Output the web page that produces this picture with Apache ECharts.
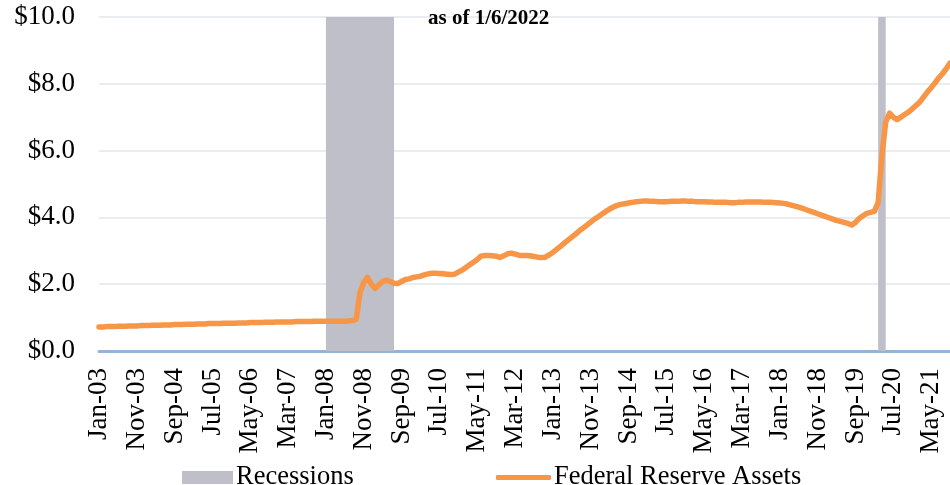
<!DOCTYPE html>
<html>
<head>
<meta charset="utf-8">
<script src="https://cdn.jsdelivr.net/npm/echarts@6/dist/echarts.min.js"></script>
<style>html,body{margin:0;padding:0;background:#fff}#c{width:950px;height:485px}</style>
</head>
<body>
<div id="c"></div>
<script>
// Month labels Jan-03 .. Oct-21
const monthNames = ['Jan','Feb','Mar','Apr','May','Jun','Jul','Aug','Sep','Oct','Nov','Dec'];
const startYear = 2003, endYear = 2021, endMonth = 10;
const categories = [];
for (let y = startYear; y <= endYear; y++) {
  for (let m = 0; m < 12; m++) {
    if (y === endYear && m >= endMonth) break;
    categories.push(monthNames[m] + '-' + String(y % 100).padStart(2, '0'));
  }
}

// Federal Reserve assets, $ trillions (monthly)
const assets2003 = [0.72,0.72,0.73,0.73,0.73,0.74,0.74,0.74,0.75,0.75,0.75,0.76];
const assets2004 = [0.76,0.76,0.77,0.77,0.77,0.78,0.78,0.78,0.79,0.79,0.79,0.80];
const assets2005 = [0.80,0.80,0.81,0.81,0.81,0.82,0.82,0.82,0.82,0.83,0.83,0.83];
const assets2006 = [0.83,0.84,0.84,0.84,0.85,0.85,0.85,0.85,0.86,0.86,0.86,0.87];
const assets2007 = [0.87,0.87,0.87,0.87,0.88,0.88,0.88,0.88,0.88,0.89,0.89,0.89];
const assets2008 = [0.89,0.89,0.89,0.89,0.89,0.89,0.90,0.91,0.95,1.75,2.05,2.20];
const assets2009 = [2.00,1.87,1.98,2.08,2.12,2.08,2.03,2.02,2.08,2.14,2.16,2.20];
const assets2010 = [2.22,2.24,2.28,2.31,2.33,2.33,2.32,2.31,2.30,2.29,2.30,2.36];
const assets2011 = [2.42,2.50,2.58,2.66,2.74,2.84,2.86,2.86,2.85,2.84,2.80,2.85];
const assets2012 = [2.91,2.93,2.90,2.87,2.86,2.86,2.85,2.83,2.81,2.80,2.81,2.88];
const assets2013 = [2.95,3.04,3.13,3.23,3.32,3.41,3.50,3.60,3.68,3.77,3.86,3.95];
const assets2014 = [4.02,4.10,4.18,4.25,4.31,4.36,4.39,4.41,4.43,4.45,4.47,4.48];
const assets2015 = [4.49,4.49,4.48,4.48,4.47,4.47,4.47,4.48,4.48,4.48,4.49,4.49];
const assets2016 = [4.48,4.48,4.47,4.47,4.47,4.46,4.46,4.45,4.45,4.45,4.45,4.44];
const assets2017 = [4.44,4.45,4.45,4.46,4.46,4.46,4.46,4.46,4.45,4.45,4.45,4.44];
const assets2018 = [4.43,4.42,4.40,4.37,4.34,4.31,4.27,4.23,4.19,4.15,4.11,4.07];
const assets2019 = [4.03,3.99,3.95,3.91,3.88,3.85,3.82,3.77,3.85,3.97,4.05,4.12];
const assets2020 = [4.15,4.18,4.45,5.85,6.85,7.12,7.00,6.93,7.00,7.08,7.15,7.25];
const assets2021 = [7.35,7.45,7.60,7.75,7.88,8.02,8.18,8.30,8.45,8.62];
const fedAssets = [].concat(assets2003,assets2004,assets2005,assets2006,assets2007,
  assets2008,assets2009,assets2010,assets2011,assets2012,assets2013,assets2014,
  assets2015,assets2016,assets2017,assets2018,assets2019,assets2020,assets2021);

// Recession periods (start, end month labels)
const recessions = [['Jan-08','Jul-09'],['Mar-20','May-20']];

// Y axis ticks
const yMin = 0, yMax = 10, yStep = 2;

const serif = '"Liberation Serif","Times New Roman",serif';
const chart = echarts.init(document.getElementById('c'), null, {renderer:'canvas'});
chart.setOption({
  animation: false,
  backgroundColor: '#ffffff',
  title: {
    text: 'as of 1/6/2022', left: 423, top: 3,
    textStyle: {fontFamily: serif, fontWeight: 'bold', fontSize: 21, color: '#000'}
  },
  legend: [
    {data: ['Recessions'], left: 177, top: 459, icon: 'rect', itemWidth: 51, itemHeight: 13,
     itemGap: 0, textStyle: {fontFamily: serif, fontSize: 26.5, color: '#000', padding: [0,0,0,-2]}},
    {data: ['Federal Reserve Assets'], left: 491, top: 459, icon: 'roundRect', itemWidth: 55, itemHeight: 5,
     itemGap: 0, textStyle: {fontFamily: serif, fontSize: 26.5, color: '#000', padding: [0,0,0,-2]}}
  ],
  grid: {left: 99, right: 0, top: 17, bottom: 134, containLabel: false},
  xAxis: {
    type: 'category', data: categories, boundaryGap: false,
    axisLine: {lineStyle: {color: '#95b3d7', width: 3}},
    axisTick: {show: false},
    axisLabel: {interval: 9, rotate: 90, margin: 17, fontFamily: serif, fontSize: 27, color: '#000'},
    splitLine: {show: false}
  },
  yAxis: {
    type: 'value', min: yMin, max: yMax, interval: yStep,
    axisLine: {show: false}, axisTick: {show: false},
    axisLabel: {margin: 24, fontFamily: serif, fontSize: 27, color: '#000',
      formatter: v => '$' + v.toFixed(1)},
    splitLine: {lineStyle: {color: '#e2e6ec', width: 1.5}}
  },
  series: [
    {
      name: 'Recessions', type: 'line', data: [], color: '#bfbfc9',
      itemStyle: {color: '#bfbfc9'},
      markArea: {silent: true, itemStyle: {color: '#bfbfc9', opacity: 1},
        data: recessions.map(r => [{xAxis: r[0]}, {xAxis: r[1]}])}
    },
    {
      name: 'Federal Reserve Assets', type: 'line', data: fedAssets, color: '#f79646',
      showSymbol: false, smooth: false, z: 5,
      lineStyle: {color: '#f79646', width: 5.5, cap: 'round', join: 'round'}
    }
  ]
});
</script>
</body>
</html>
